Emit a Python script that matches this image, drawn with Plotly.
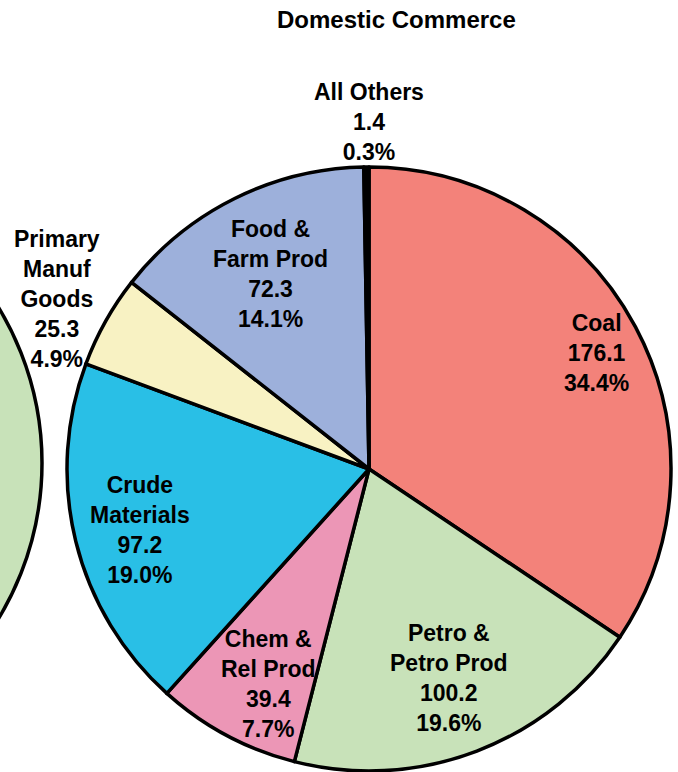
import plotly.graph_objects as go

# ---- data ----
categories = ["Coal", "Petro & Petro Prod", "Chem & Rel Prod", "Crude Materials",
              "Primary Manuf Goods", "Food & Farm Prod", "All Others"]
label_lines = ["Coal", "Petro &<br>Petro Prod", "Chem &<br>Rel Prod", "Crude<br>Materials",
               "Primary<br>Manuf<br>Goods", "Food &<br>Farm Prod", "All Others"]
values = [176.1, 100.2, 39.4, 97.2, 25.3, 72.3, 1.4]
colors = ["#F3827A", "#C8E2B9", "#EC96B6", "#29BFE6", "#F8F2C3", "#9DB0DB", "#000000"]
title_text = "Domestic Commerce"

W, H = 678, 772
total = sum(values)

# label block centres in pixels (layout only)
label_pos = [(596, 353), (449, 678), (268, 684), (140, 530), (57, 299), (270, 274), (369, 122)]

font = dict(family="Liberation Sans, Arial, sans-serif", size=23, color="black", weight="bold")
title_font = dict(family="Liberation Sans, Arial, sans-serif", size=24, color="black", weight="bold")

fig = go.Figure()
fig.add_trace(go.Scatter(x=[], y=[], showlegend=False, hoverinfo="skip"))
fig.add_trace(go.Pie(
    labels=categories, values=values, sort=False, direction="clockwise", rotation=0,
    marker=dict(colors=colors, line=dict(color="black", width=3.5)),
    textinfo="none", showlegend=False,
    domain=dict(x=[(369 - 302) / W, (369 + 302) / W], y=[1 / H, 605 / H]),
))

annotations = []
for name, v, (px, py) in zip(label_lines, values, label_pos):
    txt = f"{name}<br>{v:.1f}<br>{v / total * 100:.1f}%"
    annotations.append(dict(x=px / W, y=1 - py / H, xref="paper", yref="paper",
                            text=txt, showarrow=False, font=font,
                            xanchor="center", yanchor="middle", align="center"))
annotations.append(dict(x=396 / W, y=1 - 20 / H, xref="paper", yref="paper",
                        text=title_text, showarrow=False, font=title_font,
                        xanchor="center", yanchor="middle"))

# partial neighbouring pie on the left edge
cx, cy, r = -258, 463, 300
shapes = [dict(type="circle", xref="x", yref="y", x0=cx - r, x1=cx + r, y0=cy - r, y1=cy + r,
               fillcolor="#C8E2B9", line=dict(color="black", width=3.5), layer="below")]

fig.update_layout(
    width=W, height=H, margin=dict(l=0, r=0, t=0, b=0),
    paper_bgcolor="white", plot_bgcolor="rgba(0,0,0,0)",
    xaxis=dict(range=[0, W], visible=False, fixedrange=True, domain=[0, 1]),
    yaxis=dict(range=[H, 0], visible=False, fixedrange=True, domain=[0, 1]),
    annotations=annotations, shapes=shapes,
)
fig.write_html("out.html", config={"displayModeBar": False},
               post_script="document.body.style.margin='0';")
